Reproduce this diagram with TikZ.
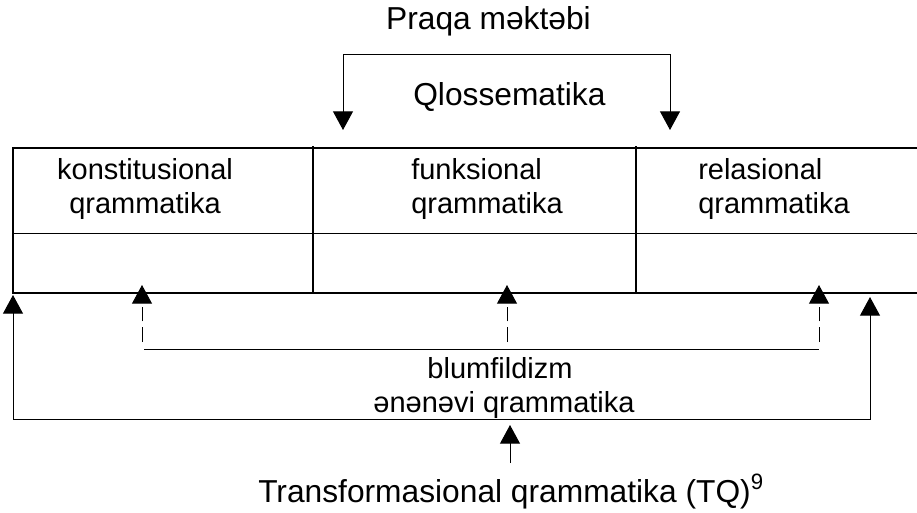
\documentclass[tikz,border=0pt]{standalone}
\usepackage{fontspec}
\setmainfont{Liberation Sans}
\usepackage{tikz}
\usetikzlibrary{arrows.meta,positioning,calc}

\begin{document}
\begin{tikzpicture}[x=0.75pt, y=-0.75pt,
    every node/.style={font=\fontsize{21.75}{25.5}\selectfont, inner sep=0pt},
    bigtext/.style={font=\fontsize{23.8}{28}\selectfont},
    tablerule/.style={line width=1pt},
    thinrule/.style={line width=0.75pt},
    link/.style={line width=0.75pt, {Triangle[width=15pt,length=14pt]}-{Triangle[width=15pt,length=14pt]}},
    uplink/.style={line width=0.75pt, -{Triangle[width=15pt,length=14pt]}},
    dashlink/.style={uplink, dash pattern=on 11pt off 4.5pt}]
    \useasboundingbox (0,0) rectangle (917,512);
    % table
    \draw[tablerule] (917,148) -- (13,148) -- (13,293) -- (917,293);
    \draw[thinrule] (13,233) -- (917,233);
    \draw[tablerule] (313,146) -- (313,293);
    \draw[tablerule] (636,146) -- (636,293);
    \node[align=center] (konst) at (145,189) {konstitusional\\qrammatika};
    \node[align=left, anchor=west] (funk) at (411,189) {funksional\\qrammatika};
    \node[align=left, anchor=west] (rel) at (698,189) {relasional\\qrammatika};
    % top
    \node[bigtext, anchor=base] (praqa) at (488.5,29) {Praqa məktəbi};
    \node[bigtext, anchor=base west] (qlos) at (413,105) {Qlossematika};
    \coordinate (pl) at (343,54);
    \coordinate (pr) at (670,54);
    \draw[link] (343,130) -- (pl) -- (pr) -- (670,130);
    % bottom
    \node[anchor=base] (blum) at (500,378) {blumfildizm};
    \node[anchor=base] (enen) at (504,412) {ənənəvi qrammatika};
    \coordinate (bl) at (144,349);
    \coordinate (br) at (819,349);
    \draw[thinrule] (bl) -- (br);
    \foreach \x in {142,507,819}
      \draw[dashlink] (\x,342) -- (\x,285);
    \coordinate (ol) at (13,419);
    \coordinate (or) at (870,419);
    \draw[link] (13,295) -- (ol) -- (or) -- (870,297);
    \node[bigtext, anchor=base west] (tq) at (258,502) {Transformasional qrammatika (TQ)\textsuperscript{9}};
    \coordinate (tqt) at (510,463);
    \draw[uplink] (tqt) -- (510,425);
  \end{tikzpicture}
\end{document}
